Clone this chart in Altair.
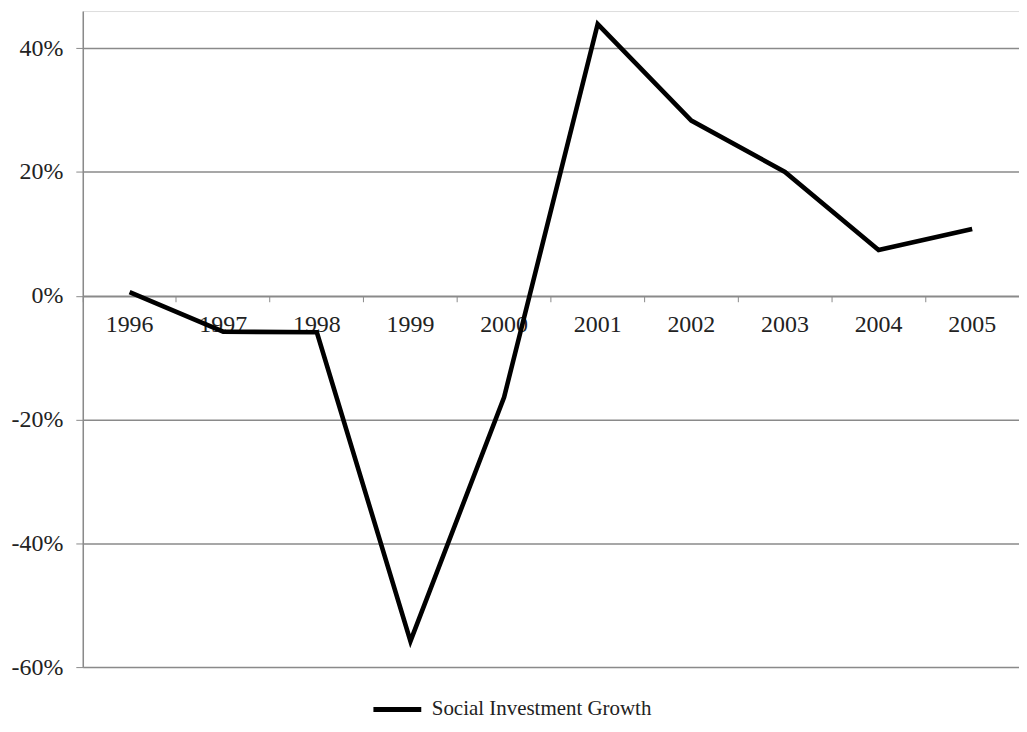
import altair as alt
import pandas as pd

years = ["1996", "1997", "1998", "1999", "2000", "2001", "2002", "2003", "2004", "2005"]
growth_pct = [0.6, -5.8, -5.9, -55.8, -16.4, 43.9, 28.3, 20.0, 7.4, 10.8]
series_name = "Social Investment Growth"
y_ticks = [-60, -40, -20, 0, 20, 40]
Y_MIN, Y_MAX = -60, 46

W, H = 939, 658
FONT = "Liberation Serif"
GRID = "#8a8a8a"

df = pd.DataFrame({"year": years, "growth": growth_pct, "series": [series_name] * len(years)})

x_offset = -H * (0 - Y_MIN) / (Y_MAX - Y_MIN)

chart = (
    alt.Chart(df)
    .mark_line(color="black", strokeWidth=4.6, strokeJoin="miter", strokeMiterLimit=20)
    .encode(
        x=alt.X(
            "year:N",
            sort=years,
            bandPosition=0.5,
            scale=alt.Scale(type="band", paddingInner=0, paddingOuter=0),
            axis=alt.Axis(
                title=None,
                orient="bottom",
                offset=x_offset,
                labelAngle=0,
                labelFont=FONT,
                labelFontSize=24,
                labelColor="#222",
                labelPadding=11,
                tickSize=6,
                tickColor=GRID,
                domainColor=GRID,
                domainWidth=1.5,
                bandPosition=0,
                grid=False,
            ),
        ),
        y=alt.Y(
            "growth:Q",
            scale=alt.Scale(domain=[Y_MIN, Y_MAX], nice=False, zero=False),
            axis=alt.Axis(
                title=None,
                values=y_ticks,
                labelExpr="datum.value + '%'",
                labelFont=FONT,
                labelFontSize=24,
                labelColor="#222",
                labelPadding=13,
                tickSize=7,
                tickColor=GRID,
                domainColor=GRID,
                domainWidth=1.5,
                gridColor=GRID,
                gridWidth=1.5,
                gridOpacity=1,
            ),
        ),
        color=alt.Color(
            "series:N",
            scale=alt.Scale(range=["black"]),
            legend=alt.Legend(
                title=None,
                orient="none",
                legendX=289,
                legendY=674,
                symbolType="stroke",
                symbolSize=2304,
                symbolStrokeWidth=5,
                symbolStrokeColor="black",
                labelFont=FONT,
                labelFontSize=21,
                labelColor="#222",
                labelOffset=8,
                labelLimit=0,
                padding=0,
            ),
        ),
    )
    .properties(
        width=W,
        height=H,
        autosize=alt.AutoSizeParams(type="none"),
        padding={"left": 75, "top": 2, "right": 0, "bottom": 52},
    )
    .configure_view(stroke=None)
    .configure(background="white")
)

chart.save("out.html", embed_options={"renderer": "svg", "actions": False})
